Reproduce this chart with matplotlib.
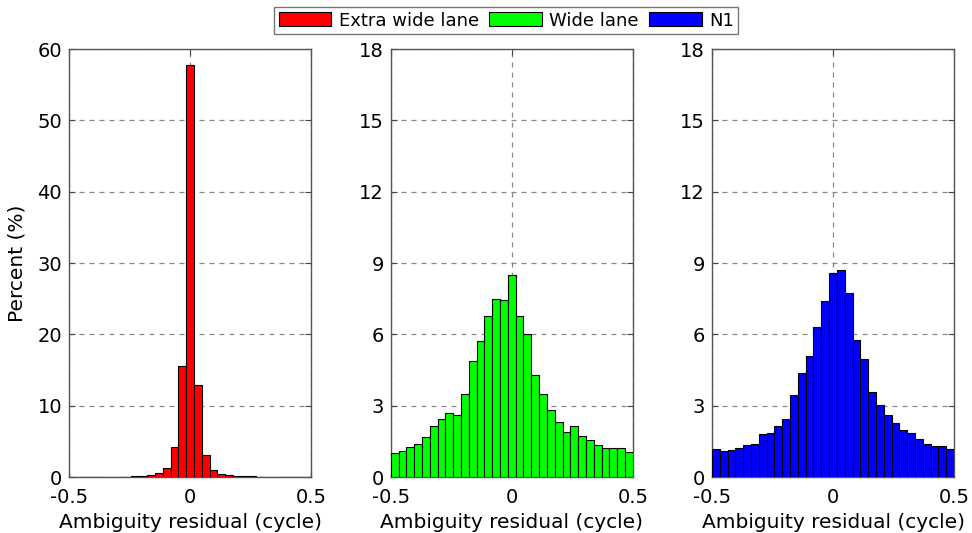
import numpy as np
import matplotlib
matplotlib.use("Agg")
import matplotlib.pyplot as plt
from matplotlib.patches import Patch

plt.rcParams['font.family'] = ['DejaVu Sans']

# percent of residuals per bin, 31 bins over [-0.5, 0.5]
ewl = [0.03, 0.02, 0.02, 0.02, 0.03, 0.03, 0.05, 0.07, 0.10, 0.19, 0.30,
       0.55, 1.25, 4.15, 15.6, 57.7, 12.9, 3.10, 1.05, 0.45, 0.28, 0.20,
       0.10, 0.08, 0.05, 0.04, 0.03, 0.03, 0.02, 0.02, 0.02]
wl = [1.02, 1.09, 1.26, 1.38, 1.69, 2.14, 2.45, 2.69, 2.60, 3.48, 4.87,
      5.73, 6.78, 7.47, 7.43, 8.49, 6.78, 6.01, 4.29, 3.51, 2.83, 2.31,
      1.89, 2.14, 1.73, 1.54, 1.33, 1.24, 1.24, 1.23, 1.05]
n1 = [1.16, 1.08, 1.15, 1.24, 1.33, 1.41, 1.79, 1.85, 2.14, 2.45, 3.47,
      4.38, 5.09, 6.29, 7.41, 8.56, 8.71, 7.76, 5.78, 4.95, 3.59, 3.01,
      2.62, 2.28, 1.99, 1.87, 1.61, 1.37, 1.29, 1.29, 1.17]

names = ['Extra wide lane', 'Wide lane', 'N1']
colors = ['#ff0000', '#00ff00', '#0000ff']
series = [ewl, wl, n1]
ylims = [60, 18, 18]
yticks = [np.arange(0, 61, 10), np.arange(0, 19, 3), np.arange(0, 19, 3)]

edges = np.linspace(-0.5, 0.5, len(ewl) + 1)
centers = (edges[:-1] + edges[1:]) / 2
width = edges[1] - edges[0]

fig = plt.figure(figsize=(9.72, 5.33), dpi=100)
lefts = [0.071, 0.402, 0.7325]

for i in range(3):
    ax = fig.add_axes([lefts[i], 0.105, 0.249, 0.803])
    ax.bar(centers, series[i], width=width, color=colors[i],
           edgecolor='black', linewidth=0.8, zorder=3)
    ax.set_xlim(-0.5, 0.5)
    ax.set_ylim(0, ylims[i])
    ax.set_xticks([-0.5, 0, 0.5])
    ax.set_xticklabels(['-0.5', '0', '0.5'])
    ax.set_yticks(yticks[i])
    ax.grid(True, linestyle=(0, (4, 4)), color='#888888', linewidth=0.9, zorder=1)
    ax.tick_params(direction='in', top=True, right=True, length=4,
                   labelsize=14, color='#444444')
    ax.tick_params(axis='x', pad=8)
    ax.tick_params(axis='y', pad=5)
    for s in ax.spines.values():
        s.set_color('#555555')
        s.set_linewidth(1.0)
    ax.set_xlabel('Ambiguity residual (cycle)', fontsize=14.5, labelpad=4)
    if i == 0:
        ax.set_ylabel('Percent (%)', fontsize=14.5, labelpad=8)

handles = [Patch(facecolor=c, edgecolor='black', linewidth=0.8) for c in colors]
leg = fig.legend(handles, names, loc='center', bbox_to_anchor=(0.521, 0.9615),
                 ncol=3, fontsize=13, frameon=True, fancybox=False,
                 handlelength=2.9, handleheight=0.8, columnspacing=0.6,
                 handletextpad=0.4, borderpad=0.25, borderaxespad=0)
leg.get_frame().set_edgecolor('#555555')
leg.get_frame().set_linewidth(1.0)

fig.savefig('out.png', dpi=100)
